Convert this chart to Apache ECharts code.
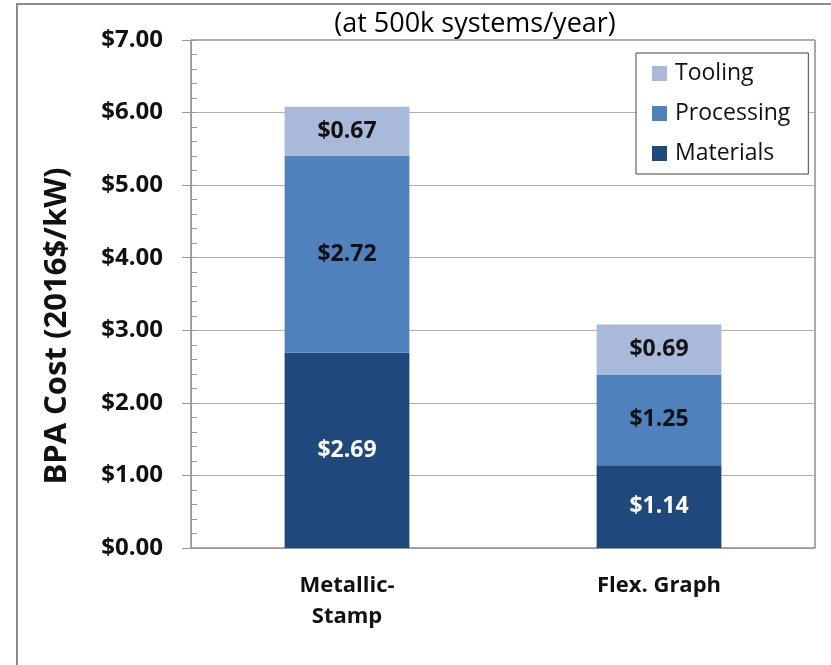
<!DOCTYPE html>
<html>
<head>
<meta charset="utf-8">
<script src="https://cdn.jsdelivr.net/npm/echarts@6/dist/echarts.min.js"></script>
<style>
  html, body { margin: 0; padding: 0; background: #fff; }
  #chart { width: 831px; height: 665px; }
</style>
</head>
<body>
<div id="chart"></div>
<script>
// 数据
const categories = ['Metallic-\nStamp', 'Flex. Graph']
const materials = [2.69, 1.14]
const processing = [2.72, 1.25]
const tooling = [0.67, 0.69]
const seriesNames = ['Materials', 'Processing', 'Tooling']
const legendOrder = ['Tooling', 'Processing', 'Materials']
const subtitle = '(at 500k systems/year)'
const yName = 'BPA Cost (2016$/kW)'

const FONT = '"Open Sans", "Noto Sans", sans-serif'
const money = v => '$' + v.toFixed(2)

const labelStyle = (color) => ({
  show: true,
  position: 'inside',
  formatter: p => money(p.value),
  color: color,
  fontFamily: FONT,
  fontWeight: 'bold',
  fontSize: 23,
})

const myChart = echarts.init(document.getElementById('chart'), null, { renderer: 'canvas' })

const option = {
  animation: false,
  backgroundColor: '#fff',
  textStyle: { fontFamily: FONT },
  graphic: [
    {
      type: 'rect',
      shape: { x: 17, y: 4, width: 900, height: 700 },
      style: { fill: 'none', stroke: '#8c8c8c', lineWidth: 2 },
      silent: true,
      z: -1,
    },
    {
      type: 'text',
      x: 475,
      y: 24,
      style: {
        text: subtitle,
        fontFamily: FONT,
        fontSize: 27,
        fill: '#000',
        textAlign: 'center',
        textVerticalAlign: 'middle',
      },
    },
  ],
  legend: {
    data: legendOrder,
    orient: 'vertical',
    left: 636,
    top: 53,
    itemWidth: 15,
    itemHeight: 15,
    itemGap: 17,
    icon: 'rect',
    padding: [9, 18, 9, 16],
    borderColor: '#444',
    borderWidth: 1,
    backgroundColor: '#fff',
    textStyle: { fontFamily: FONT, fontSize: 23, color: '#111', padding: [0, 0, 0, 3] },
  },
  grid: {
    left: 191,
    right: 16,
    top: 40,
    bottom: 117,
    show: true,
    borderColor: '#555',
    borderWidth: 1,
  },
  xAxis: {
    type: 'category',
    data: categories,
    axisLine: { lineStyle: { color: '#999' } },
    axisTick: { length: 8, lineStyle: { color: '#999' } },
    axisLabel: {
      margin: 22,
      color: '#111',
      fontFamily: FONT,
      fontWeight: 'bold',
      fontSize: 22,
      lineHeight: 31,
    },
  },
  yAxis: [
    {
      type: 'value',
      min: 0,
      max: 7,
      interval: 1,
      name: yName,
      nameLocation: 'middle',
      nameGap: 118,
      nameRotate: 90,
      nameTextStyle: {
        fontFamily: FONT,
        fontWeight: 'bold',
        fontSize: 31,
        color: '#111',
        padding: [0, 64, 0, 0],
      },
      axisLine: { show: true, lineStyle: { color: '#999' } },
      axisTick: { show: true, length: 9, lineStyle: { color: '#999' } },
      splitLine: { lineStyle: { color: '#b0b0b0' } },
      axisLabel: {
        margin: 28,
        formatter: v => money(v),
        color: '#111',
        fontFamily: FONT,
        fontWeight: 'bold',
        fontSize: 24,
      },
    },
    {
      // 次刻度（向内）
      type: 'value',
      min: 0,
      max: 7,
      interval: 0.2,
      position: 'left',
      axisLine: { show: false },
      axisTick: { show: true, inside: true, length: 6, lineStyle: { color: '#999' } },
      splitLine: { show: false },
      axisLabel: { show: false },
    },
  ],
  series: [
    {
      name: seriesNames[0],
      type: 'bar',
      stack: 'cost',
      barWidth: '40%',
      data: materials,
      itemStyle: { color: '#1f497d' },
      label: labelStyle('#fff'),
    },
    {
      name: seriesNames[1],
      type: 'bar',
      stack: 'cost',
      data: processing,
      itemStyle: { color: '#4f81bd' },
      label: labelStyle('#111'),
    },
    {
      name: seriesNames[2],
      type: 'bar',
      stack: 'cost',
      data: tooling,
      itemStyle: { color: '#a9b9da' },
      label: labelStyle('#111'),
    },
  ],
}

myChart.setOption(option)
window.onresize = function () {
  myChart.resize()
}
</script>
</body>
</html>
